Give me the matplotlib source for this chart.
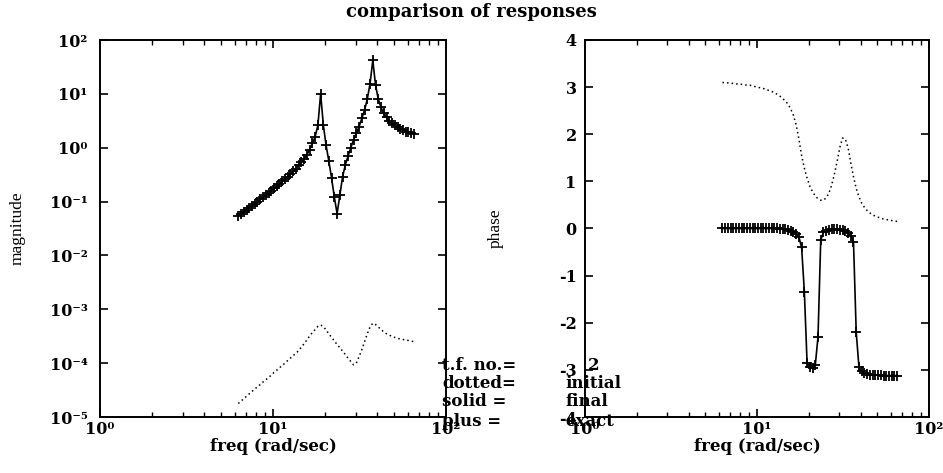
import matplotlib
matplotlib.use("Agg")
import matplotlib.pyplot as plt
import numpy as np
from matplotlib.ticker import LogLocator, NullFormatter, NullLocator

# ── Data ────────────────────────────────────────────────────────────────────
freq = [6.30, 6.53, 6.78, 7.03, 7.29, 7.56, 7.84, 8.13, 8.44, 8.75,
        9.08, 9.42, 9.77, 10.13, 10.51, 10.90, 11.30, 11.72, 12.16, 12.61,
        13.08, 13.57, 14.07, 14.60, 15.14, 15.70, 16.29, 16.89, 17.52, 18.17,
        18.85, 19.55, 20.28, 21.03, 21.82, 22.63, 23.47, 24.34, 25.25, 26.19,
        27.16, 28.17, 29.22, 30.31, 31.44, 32.61, 33.82, 35.08, 36.39, 37.74,
        39.15, 40.60, 42.11, 43.68, 45.31, 46.99, 48.74, 50.56, 52.44, 54.39,
        56.41, 58.51, 60.69, 62.95, 65.29]

mag_initial = [1.78e-5, 1.97e-5, 2.19e-5, 2.43e-5, 2.69e-5, 2.98e-5, 3.3e-5, 3.65e-5, 4.0e-5, 4.45e-5,
               4.9e-5, 5.4e-5, 6.0e-5, 6.7e-5, 7.4e-5, 8.2e-5, 9.1e-5, 1.0e-4, 1.12e-4, 1.24e-4,
               1.38e-4, 1.53e-4, 1.70e-4, 2.0e-4, 2.3e-4, 2.7e-4, 3.2e-4, 3.7e-4, 4.2e-4, 4.8e-4,
               5.1e-4, 4.8e-4, 4.1e-4, 3.5e-4, 3.0e-4, 2.6e-4, 2.2e-4, 1.95e-4, 1.66e-4, 1.45e-4,
               1.23e-4, 1.07e-4, 9.3e-5, 1.0e-4, 1.32e-4, 1.78e-4, 2.5e-4, 3.5e-4, 4.7e-4, 5.5e-4,
               5.2e-4, 4.7e-4, 4.2e-4, 3.8e-4, 3.5e-4, 3.3e-4, 3.16e-4, 3.0e-4, 2.9e-4, 2.8e-4,
               2.75e-4, 2.7e-4, 2.63e-4, 2.57e-4, 2.5e-4]

mag_final = [0.055, 0.060, 0.065, 0.071, 0.077, 0.084, 0.092, 0.100, 0.110, 0.121,
             0.133, 0.146, 0.160, 0.176, 0.194, 0.214, 0.236, 0.262, 0.290, 0.325,
             0.365, 0.41, 0.47, 0.54, 0.62, 0.74, 0.92, 1.2, 1.6, 2.6,
             10.0, 2.6, 1.1, 0.56, 0.27, 0.12, 0.06, 0.13, 0.29, 0.48,
             0.70, 1.0, 1.4, 1.85, 2.45, 3.5, 5.0, 8.0, 15.5, 42.0,
             14.5, 8.0, 5.6, 4.4, 3.7, 3.2, 2.85, 2.6, 2.4, 2.25,
             2.12, 2.0, 1.92, 1.85, 1.78]
mag_exact = list(mag_final)

phase_initial = [3.10, 3.09, 3.09, 3.08, 3.08, 3.07, 3.06, 3.06, 3.05, 3.04,
                 3.04, 3.03, 3.01, 3.00, 2.98, 2.97, 2.95, 2.93, 2.91, 2.88,
                 2.85, 2.81, 2.76, 2.71, 2.64, 2.54, 2.40, 2.20, 1.90, 1.55,
                 1.28, 1.07, 0.90, 0.78, 0.69, 0.63, 0.60, 0.60, 0.65, 0.75,
                 0.92, 1.15, 1.42, 1.72, 1.92, 1.90, 1.72, 1.40, 1.10, 0.85,
                 0.67, 0.54, 0.45, 0.38, 0.33, 0.29, 0.26, 0.24, 0.22, 0.20,
                 0.19, 0.18, 0.17, 0.16, 0.15]

phase_final = [0.0, 0.0, 0.0, 0.0, 0.0, 0.0, 0.0, 0.0, 0.0, 0.0,
               0.0, 0.0, 0.0, 0.0, 0.0, 0.0, 0.0, 0.0, 0.0, 0.0,
               0.0, -0.01, -0.01, -0.02, -0.03, -0.05, -0.08, -0.12, -0.18, -0.40,
               -1.34, -2.85, -2.93, -2.97, -2.90, -2.30, -0.25, -0.08, -0.05, -0.03,
               -0.02, -0.02, -0.02, -0.03, -0.04, -0.06, -0.09, -0.15, -0.28, -2.20,
               -2.94, -3.03, -3.07, -3.09, -3.10, -3.10, -3.11, -3.11, -3.11, -3.12,
               -3.12, -3.12, -3.12, -3.12, -3.12]
phase_exact = list(phase_final)

mag_ticks = [1e2, 1e1, 1e0, 1e-1, 1e-2, 1e-3, 1e-4, 1e-5]
mag_labels = ["10²", "10¹", "10⁰", "10⁻¹", "10⁻²", "10⁻³", "10⁻⁴", "10⁻⁵"]
freq_ticks = [1, 10, 100]
freq_labels = ["10⁰", "10¹", "10²"]
phase_ticks = [4, 3, 2, 1, 0, -1, -2, -3, -4]

legend_keys = ["t.f. no.=", "dotted=", "solid =", "plus ="]
legend_vals = ["2", "initial", "final", "exact"]

# ── Style ───────────────────────────────────────────────────────────────────
plt.rcParams.update({
    "font.family": ["DejaVu Serif"],
    "font.weight": "bold",
    "axes.labelweight": "bold",
    "font.size": 11,
    "axes.linewidth": 1.4,
    "xtick.direction": "in",
    "ytick.direction": "in",
    "xtick.top": True,
    "ytick.right": True,
})

W, H = 943, 473
fig = plt.figure(figsize=(W / 100, H / 100), dpi=100)


def px_axes(x0, y0, x1, y1):
    return fig.add_axes([x0 / W, 1 - y1 / H, (x1 - x0) / W, (y1 - y0) / H])


def style_ticks(ax):
    ax.tick_params(which="major", length=6, width=1.2, labelsize=11.5)
    ax.tick_params(which="minor", length=3.5, width=1.0)
    ax.set_xscale("log")
    ax.set_xlim(1, 100)
    ax.set_xticks(freq_ticks, freq_labels)
    ax.xaxis.set_minor_locator(LogLocator(base=10, subs=np.arange(2, 10)))
    ax.xaxis.set_minor_formatter(NullFormatter())
    ax.tick_params(axis="x", pad=3)


# ── Magnitude panel ─────────────────────────────────────────────────────────
ax0 = px_axes(100, 40, 446, 417)
ax0.plot(freq, mag_initial, color="black", linestyle=(0, (1, 2)), linewidth=1.1)
ax0.plot(freq, mag_final, color="black", linewidth=1.2)
ax0.plot(freq, mag_exact, color="black", linestyle="none", marker="+",
         markersize=6.5, markeredgewidth=1.3)
style_ticks(ax0)
ax0.set_yscale("log")
ax0.set_ylim(1e-5, 1e2)
ax0.set_yticks(mag_ticks, mag_labels)
ax0.yaxis.set_minor_locator(NullLocator())
ax0.tick_params(axis="y", pad=9)
ax0.set_ylabel("magnitude", family="Liberation Serif", fontweight="normal", fontsize=12.5)
ax0.yaxis.set_label_coords(-0.215, 0.5)
ax0.set_xlabel("freq (rad/sec)", fontsize=12)
ax0.xaxis.set_label_coords(0.5, -0.055)

# ── Phase panel ─────────────────────────────────────────────────────────────
ax1 = px_axes(585, 40, 929, 417)
ax1.plot(freq, phase_initial, color="black", linestyle=(0, (1, 2)), linewidth=1.1)
ax1.plot(freq, phase_final, color="black", linewidth=1.2)
ax1.plot(freq, phase_exact, color="black", linestyle="none", marker="+",
         markersize=6.5, markeredgewidth=1.3)
style_ticks(ax1)
ax1.set_ylim(-4, 4)
ax1.set_yticks(phase_ticks, [str(t) for t in phase_ticks])
ax1.tick_params(axis="y", pad=6)
ax1.set_ylabel("phase", family="Liberation Serif", fontweight="normal", fontsize=12.5)
ax1.yaxis.set_label_coords(-0.235, 0.5)
ax1.set_xlabel("freq (rad/sec)", fontsize=12)
ax1.xaxis.set_label_coords(0.5, -0.055)

fig.text(471 / W, 1 - 12 / H, "comparison of responses", ha="center", va="center",
         fontsize=13)

# ── Text legend in the lower middle ─────────────────────────────────────────
rows_y = [365, 383, 402, 421]
for key, val, y in zip(legend_keys, legend_vals, rows_y):
    fig.text(442 / W, 1 - y / H, key, ha="left", va="center", fontsize=12)
    vx = 588 if val == "2" else 565
    fig.text(vx / W, 1 - y / H, val, ha="left", va="center", fontsize=12)

fig.savefig("out.png", dpi=100)
